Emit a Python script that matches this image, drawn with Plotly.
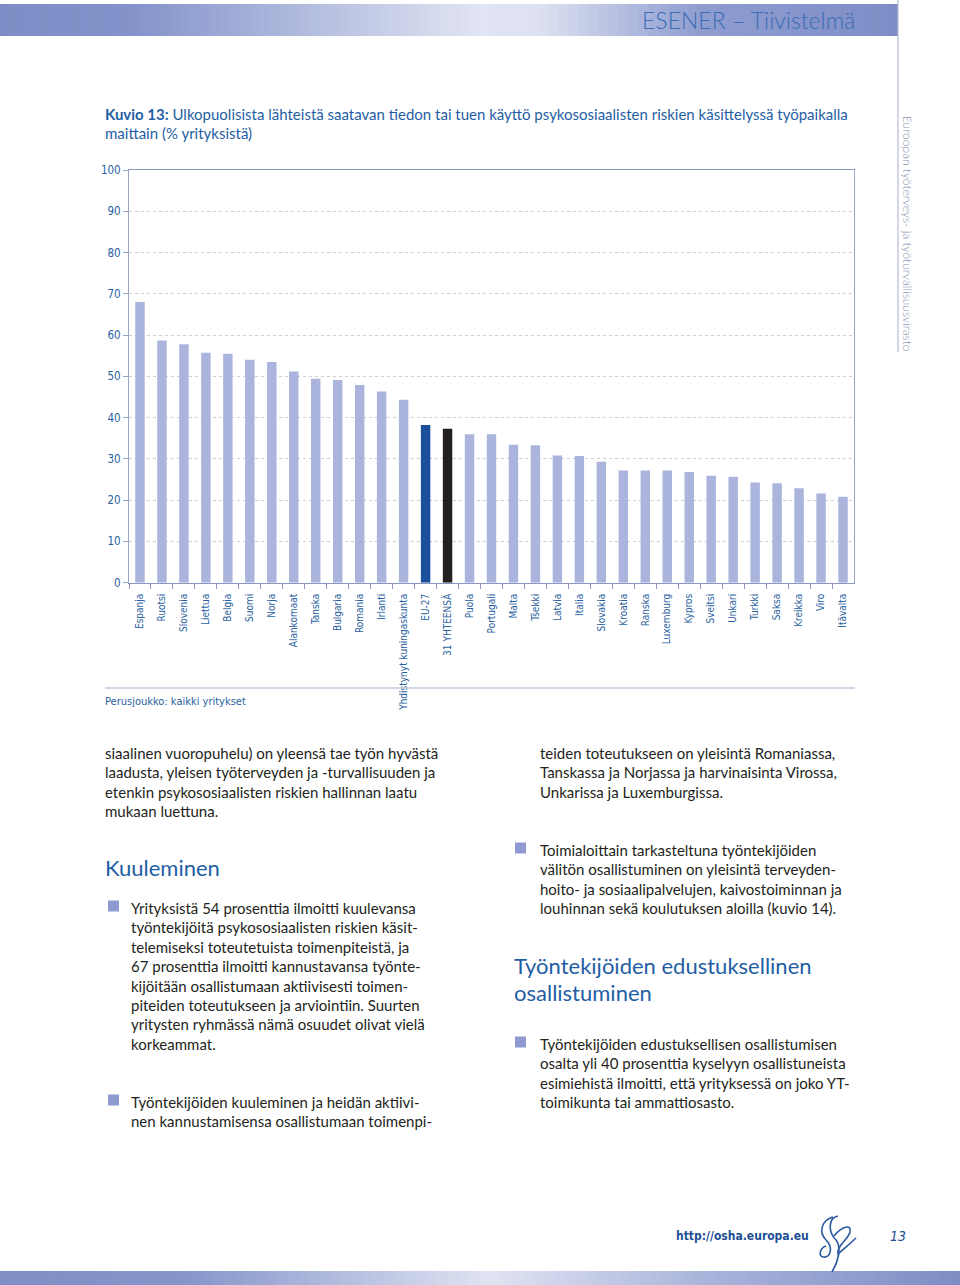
import plotly.graph_objects as go

W, H = 960, 1285

countries = ["Espanja", "Ruotsi", "Slovenia", "Liettua", "Belgia", "Suomi", "Norja",
             "Alankomaat", "Tanska", "Bulgaria", "Romania", "Irlanti",
             "Yhdistynyt kuningaskunta", "EU-27", "31 YHTEENSÄ", "Puola", "Portugali",
             "Malta", "Tšekki", "Latvia", "Italia", "Slovakia", "Kroatia", "Ranska",
             "Luxemburg", "Kypros", "Sveitsi", "Unkari", "Turkki", "Saksa", "Kreikka",
             "Viro", "Itävalta"]
values = [68, 58.7, 57.8, 55.7, 55.5, 54.0, 53.5, 51.2, 49.4, 49.1, 47.9, 46.3,
          44.3, 38.2, 37.3, 36.0, 36.0, 33.4, 33.3, 30.8, 30.7, 29.3, 27.2, 27.2,
          27.2, 26.8, 25.9, 25.7, 24.3, 24.1, 22.9, 21.6, 20.8]
y_ticks = [0, 10, 20, 30, 40, 50, 60, 70, 80, 90, 100]

LIGHT = "#aab4dc"
EU = "#1b4f9c"
TOTAL = "#231f20"
BLUE_TXT = "#2a5f9f"
HEAD_BLUE = "#1f5ea4"
BODY = "#231f20"
COND = "Liberation Sans Narrow, DejaVu Sans Condensed, sans-serif"
SANS = "Lato, Open Sans, sans-serif"

bar_colors = [EU if c == "EU-27" else TOTAL if c == "31 YHTEENSÄ" else LIGHT for c in countries]


def px(x):
    return x / W


def py(y):
    return 1 - y / H


fig = go.Figure()
fig.add_trace(go.Bar(x=countries, y=values, marker=dict(color=bar_colors, line=dict(width=0)),
                     hoverinfo="x+y"))

shapes = []
annotations = []


def hexlerp(c1, c2, t):
    a = [int(c1[i:i + 2], 16) for i in (1, 3, 5)]
    b = [int(c2[i:i + 2], 16) for i in (1, 3, 5)]
    return "#%02x%02x%02x" % tuple(round(a[k] + (b[k] - a[k]) * t) for k in range(3))


def gradient_bar(x0, x1, y0, y1, stops, n=90):
    step = (x1 - x0) / n
    for i in range(n):
        xc = x0 + (i + 0.5) * step
        col = stops[-1][1]
        for j in range(len(stops) - 1):
            if stops[j][0] <= xc <= stops[j + 1][0]:
                t = (xc - stops[j][0]) / (stops[j + 1][0] - stops[j][0])
                col = hexlerp(stops[j][1], stops[j + 1][1], t)
                break
        shapes.append(dict(type="rect", xref="paper", yref="paper",
                           x0=px(x0 + i * step), x1=px(min(x1, x0 + (i + 1) * step + 0.6)),
                           y0=py(y1), y1=py(y0), fillcolor=col, line=dict(width=0),
                           layer="below"))


# header bar
gradient_bar(0, 898, 4, 36, [(0, "#7d8ec6"), (130, "#8393ca"), (480, "#e1e4f3"),
                             (540, "#dde1f1"), (700, "#8e9cd0"), (898, "#7d8ec6")])
# footer bar
gradient_bar(0, 960, 1271, 1285, [(0, "#7f8fc6"), (190, "#8696cb"), (490, "#e0e3f2"),
                                  (700, "#aab5dc"), (960, "#7d8dc5")])

# right vertical rule
shapes.append(dict(type="line", xref="paper", yref="paper", x0=px(898), x1=px(898),
                   y0=py(0), y1=py(352), line=dict(color="#b4bbd6", width=1.2)))
# line below chart
shapes.append(dict(type="line", xref="paper", yref="paper", x0=px(105), x1=px(855),
                   y0=py(688), y1=py(688), line=dict(color="#c3c8dc", width=1.5)))

# bullets
for (bx, by) in [(108, 906), (108, 1100), (515, 848), (515, 1042)]:
    shapes.append(dict(type="rect", xref="paper", yref="paper", x0=px(bx), x1=px(bx + 11),
                       y0=py(by + 5.5), y1=py(by - 5.5), fillcolor="#8f9bd0",
                       line=dict(width=0)))

# logo (rough sketch)
logo_paths = [
    "M 833 1217 C 822 1220 818 1232 826 1240 C 834 1248 830 1258 823 1257 "
    "C 818 1256 820 1248 826 1246",
    "M 838 1216 C 828 1218 828 1232 836 1240 C 842 1248 838 1262 832 1272",
    "M 834 1236 C 842 1226 852 1224 850 1232 C 848 1240 836 1246 838 1254 "
    "C 842 1250 850 1244 856 1238",
]
for p in logo_paths:
    toks = p.split()
    out = []
    nums = []
    for t in toks:
        if t.isalpha():
            out.append(t)
        else:
            nums.append(float(t))
            if len(nums) == 2:
                out.append("%.5f,%.5f" % (px(nums[0]), py(nums[1])))
                nums = []
    shapes.append(dict(type="path", xref="paper", yref="paper", path=" ".join(out),
                       line=dict(color="#2c5aa0", width=1.6)))


def text(x, y, s, size=15, color=BODY, family=SANS,
         xanchor="left", angle=0, weight=None, italic=False):
    f = dict(size=size, color=color, family=family)
    if weight:
        f["weight"] = weight
    if italic:
        f["style"] = "italic"
    annotations.append(dict(x=px(x), y=py(y), xref="paper", yref="paper", text=s,
                            showarrow=False, xanchor=xanchor, yanchor="middle",
                            borderpad=0, font=f, textangle=angle, align="left"))


# header text
text(856, 20, "ESENER – Tiivistelmä", size=23, color="#3a6db2", xanchor="right", weight=300)
# side text
text(908, 234, "Euroopan työterveys- ja työturvallisuusvirasto", size=12,
     color="#8a93b8", xanchor="center", angle=90, weight=300)

# title
text(104, 114, "<b>Kuvio 13:</b> Ulkopuolisista lähteistä saatavan tiedon tai tuen käyttö "
     "psykososiaalisten riskien käsittelyssä työpaikalla", size=15, color=HEAD_BLUE)
text(104, 133, "maittain (% yrityksistä)", size=15, color=HEAD_BLUE)

# source note
text(104, 702, "Perusjoukko: kaikki yritykset", size=11, color=BLUE_TXT, family=COND)

left_lines = [
    "siaalinen vuoropuhelu) on yleensä tae työn hyvästä",
    "laadusta, yleisen työterveyden ja -turvallisuuden ja",
    "etenkin psykososiaalisten riskien hallinnan laatu",
    "mukaan luettuna.",
]
for i, s in enumerate(left_lines):
    text(104, 753 + i * 19.4, s)

text(104, 867, "Kuuleminen", size=22, color=HEAD_BLUE)

bullet1 = [
    "Yrityksistä 54 prosenttia ilmoitti kuulevansa",
    "työntekijöitä psykososiaalisten riskien käsit-",
    "telemiseksi toteutetuista toimenpiteistä, ja",
    "67 prosenttia ilmoitti kannustavansa työnte-",
    "kijöitään osallistumaan aktiivisesti toimen-",
    "piteiden toteutukseen ja arviointiin. Suurten",
    "yritysten ryhmässä nämä osuudet olivat vielä",
    "korkeammat.",
]
for i, s in enumerate(bullet1):
    text(130, 908 + i * 19.4, s)

bullet2 = [
    "Työntekijöiden kuuleminen ja heidän aktiivi-",
    "nen kannustamisensa osallistumaan toimenpi-",
]
for i, s in enumerate(bullet2):
    text(130, 1102 + i * 19.4, s)

right_top = [
    "teiden toteutukseen on yleisintä Romaniassa,",
    "Tanskassa ja Norjassa ja harvinaisinta Virossa,",
    "Unkarissa ja Luxemburgissa.",
]
for i, s in enumerate(right_top):
    text(539, 753 + i * 19.4, s)

bullet3 = [
    "Toimialoittain tarkasteltuna työntekijöiden",
    "välitön osallistuminen on yleisintä terveyden-",
    "hoito- ja sosiaalipalvelujen, kaivostoiminnan ja",
    "louhinnan sekä koulutuksen aloilla (kuvio 14).",
]
for i, s in enumerate(bullet3):
    text(539, 850 + i * 19.4, s)

text(513, 965, "Työntekijöiden edustuksellinen", size=22, color=HEAD_BLUE)
text(513, 992, "osallistuminen", size=22, color=HEAD_BLUE)

bullet4 = [
    "Työntekijöiden edustuksellisen osallistumisen",
    "osalta yli 40 prosenttia kyselyyn osallistuneista",
    "esimiehistä ilmoitti, että yrityksessä on joko YT-",
    "toimikunta tai ammattiosasto.",
]
for i, s in enumerate(bullet4):
    text(539, 1044 + i * 19.4, s)

# footer
text(675, 1236, "<b>http://osha.europa.eu</b>", size=12, color="#1d4f95", family=COND)
text(889, 1236, "13", size=14, color="#1d4f95", family=COND, italic=True)

fig.update_layout(
    width=W, height=H,
    margin=dict(l=0, r=0, t=0, b=0, pad=0, autoexpand=False),
    paper_bgcolor="white", plot_bgcolor="white",
    showlegend=False,
    bargap=0.57,
    shapes=shapes,
    annotations=annotations,
    xaxis=dict(domain=[px(129), px(854)], type="category", automargin=False,
               tickangle=-90, tickfont=dict(family=COND, size=10, color=BLUE_TXT),
               ticklabelstandoff=6,
               showline=True, linecolor="#8b97c2", linewidth=1, mirror=True,
               ticks="outside", tickson="boundaries", ticklen=5, tickcolor="#8b97c2",
               showgrid=False, fixedrange=True),
    yaxis=dict(domain=[py(582.7), py(170)], range=[0, 100], tickvals=y_ticks,
               automargin=False,
               tickfont=dict(family=COND, size=11.5, color=BLUE_TXT),
               showline=True, linecolor="#9aa4c8", linewidth=1, mirror=True,
               ticks="outside", ticklen=5, tickcolor="#9aa4c8",
               showgrid=True, gridcolor="#cfcfcf", griddash="dot", gridwidth=1,
               zeroline=False, fixedrange=True),
)

post = (
    "document.documentElement.style.margin='0';"
    "document.body.style.margin='0';document.body.style.padding='0';"
    "document.body.style.overflow='hidden';"
)

fig.write_html("out.html", config={"displayModeBar": False}, post_script=post)
